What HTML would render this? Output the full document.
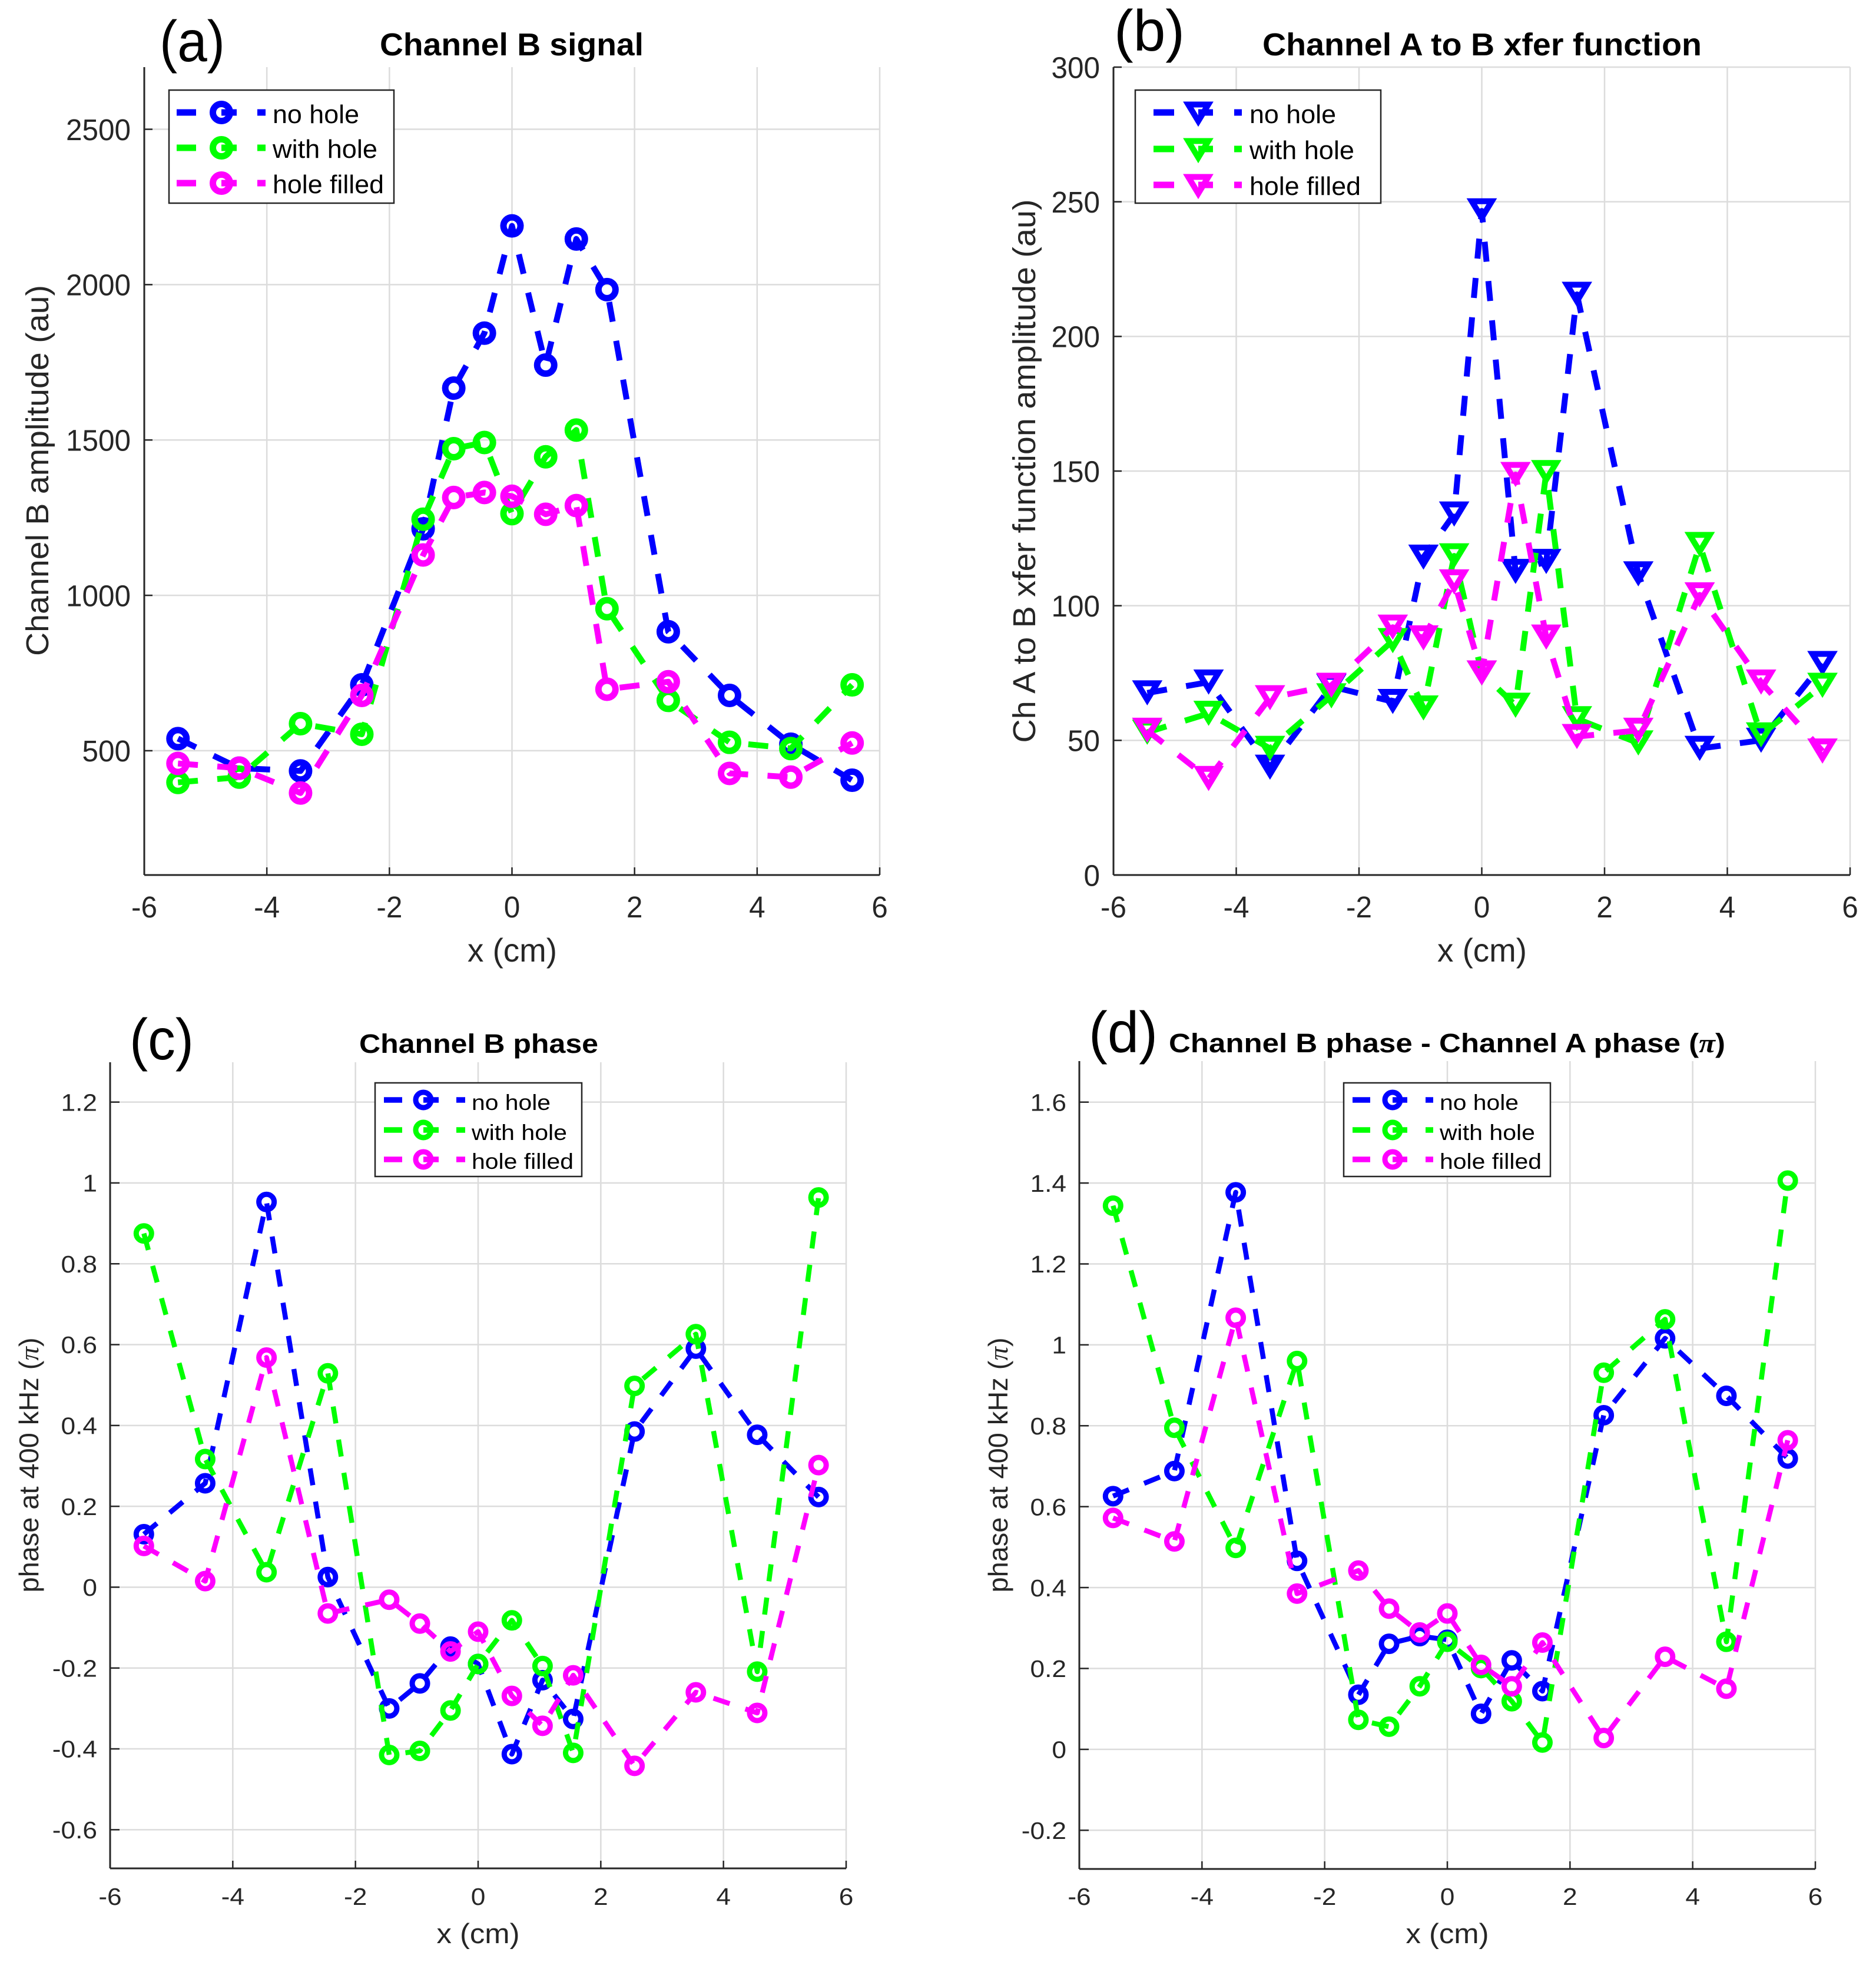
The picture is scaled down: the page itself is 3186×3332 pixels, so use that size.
<!DOCTYPE html>
<html lang="en">
<head>
<meta charset="utf-8">
<title>Channel B signal, transfer function and phase</title>
<style>
html,body{margin:0;padding:0;background:#fff;}
svg{display:block;}
text{font-family:"Liberation Sans",sans-serif;}
.tick{fill:#262626;}
.lab{fill:#262626;}
.ttl{fill:#000;font-weight:bold;}
.leg{fill:#000;}
.pan{fill:#000;}
.pi{font-family:"Liberation Serif",serif;font-style:italic;}
</style>
</head>
<body>
<svg id="fig" xmlns="http://www.w3.org/2000/svg" width="3186" height="3332" viewBox="0 0 3186 3332">
<rect width="3186" height="3332" fill="#ffffff"/>
<g id="g-a"></g>
<g id="g-b"></g>
<g id="g-c"></g>
<g id="g-d"></g>

<text class="pan" x="271" y="104" font-size="98" textLength="111" lengthAdjust="spacingAndGlyphs">(a)</text>
<text class="pan" x="1892" y="86" font-size="98" textLength="120" lengthAdjust="spacingAndGlyphs">(b)</text>
<text class="pan" x="220" y="1799" font-size="98" textLength="109" lengthAdjust="spacingAndGlyphs">(c)</text>
<text class="pan" x="1849" y="1787" font-size="98" textLength="117" lengthAdjust="spacingAndGlyphs">(d)</text>

<text class="ttl" x="645" y="94" font-size="54" textLength="448" lengthAdjust="spacingAndGlyphs">Channel B signal</text>
<text class="ttl" x="2144" y="94" font-size="54" textLength="746" lengthAdjust="spacingAndGlyphs">Channel A to B xfer function</text>
<text class="ttl" x="610" y="1788" font-size="45" textLength="406" lengthAdjust="spacingAndGlyphs">Channel B phase</text>
<text class="ttl" x="1985" y="1787" font-size="45" textLength="945" lengthAdjust="spacingAndGlyphs">Channel B phase - Channel A phase (<tspan class="pi">π</tspan>)</text>

<text class="lab" x="870" y="1633" font-size="56" text-anchor="middle" textLength="152" lengthAdjust="spacingAndGlyphs">x (cm)</text>
<text class="lab" x="2517" y="1633" font-size="56" text-anchor="middle" textLength="152" lengthAdjust="spacingAndGlyphs">x (cm)</text>
<text class="lab" x="812" y="3300" font-size="47" text-anchor="middle" textLength="141" lengthAdjust="spacingAndGlyphs">x (cm)</text>
<text class="lab" x="2458" y="3300" font-size="47" text-anchor="middle" textLength="141" lengthAdjust="spacingAndGlyphs">x (cm)</text>

<text class="lab" transform="translate(82,799) rotate(-90)" font-size="54" text-anchor="middle" textLength="630" lengthAdjust="spacingAndGlyphs">Channel B amplitude (au)</text>
<text class="lab" transform="translate(1758,800) rotate(-90)" font-size="54" text-anchor="middle" textLength="923" lengthAdjust="spacingAndGlyphs">Ch A to B xfer function amplitude (au)</text>
<text class="lab" transform="translate(65,2488) rotate(-90)" font-size="46" text-anchor="middle" textLength="433" lengthAdjust="spacingAndGlyphs">phase at 400 kHz (<tspan class="pi">π</tspan>)</text>
<text class="lab" transform="translate(1711,2488) rotate(-90)" font-size="46" text-anchor="middle" textLength="433" lengthAdjust="spacingAndGlyphs">phase at 400 kHz (<tspan class="pi">π</tspan>)</text>

<g id="leg-a">
<rect x="287" y="153" width="382" height="192" fill="#fff" stroke="#262626" stroke-width="2.5"/>
<text class="leg" x="463" y="209" font-size="44" textLength="147" lengthAdjust="spacingAndGlyphs">no hole</text>
<text class="leg" x="463" y="268" font-size="44" textLength="178" lengthAdjust="spacingAndGlyphs">with hole</text>
<text class="leg" x="463" y="328" font-size="44" textLength="189" lengthAdjust="spacingAndGlyphs">hole filled</text>
</g>
<g id="leg-b">
<rect x="1928" y="153" width="417" height="192" fill="#fff" stroke="#262626" stroke-width="2.5"/>
<text class="leg" x="2122" y="209" font-size="44" textLength="147" lengthAdjust="spacingAndGlyphs">no hole</text>
<text class="leg" x="2122" y="270" font-size="44" textLength="178" lengthAdjust="spacingAndGlyphs">with hole</text>
<text class="leg" x="2122" y="331" font-size="44" textLength="189" lengthAdjust="spacingAndGlyphs">hole filled</text>
</g>
<g id="leg-c">
<rect x="637" y="1839" width="351" height="159" fill="#fff" stroke="#262626" stroke-width="2.5"/>
<text class="leg" x="801" y="1885" font-size="37" textLength="134" lengthAdjust="spacingAndGlyphs">no hole</text>
<text class="leg" x="801" y="1936" font-size="37" textLength="162" lengthAdjust="spacingAndGlyphs">with hole</text>
<text class="leg" x="801" y="1985" font-size="37" textLength="173" lengthAdjust="spacingAndGlyphs">hole filled</text>
</g>
<g id="leg-d">
<rect x="2282" y="1839" width="351" height="159" fill="#fff" stroke="#262626" stroke-width="2.5"/>
<text class="leg" x="2445" y="1885" font-size="37" textLength="134" lengthAdjust="spacingAndGlyphs">no hole</text>
<text class="leg" x="2445" y="1936" font-size="37" textLength="162" lengthAdjust="spacingAndGlyphs">with hole</text>
<text class="leg" x="2445" y="1985" font-size="37" textLength="173" lengthAdjust="spacingAndGlyphs">hole filled</text>
</g>
</svg>
<script>
// ---- data ----
const xPositions = [-5.45,-4.45,-3.45,-2.45,-1.45,-0.95,-0.45,0,0.55,1.05,1.55,2.55,3.55,4.55,5.55];
const xTickLabels = [-6,-4,-2,0,2,4,6];

const aYTicks = [500,1000,1500,2000,2500];
const aNoHole = [539,444,435,712,1214,1667,1844,2189,1741,2147,1984,883,678,521,405];
const aWithHole = [398,415,587,553,1245,1472,1492,1263,1446,1532,957,662,527,507,712];
const aHoleFilled = [459,444,364,678,1130,1315,1331,1319,1261,1289,698,722,427,415,525];

const bYTicks = [0,50,100,150,200,250,300];
const bNoHole = [67.6,71.6,40,70,64.4,118,134,246.6,112.7,116.4,215.6,111.8,47,50,78.5];
const bWithHole = [53,60,47,66.5,87,62,118.5,75,63,149.4,58,49,122.7,52,70.4];
const bHoleFilled = [53.7,35.8,65.8,70.4,92,88,108.8,75,148.7,88.3,51.4,53.7,104,71.6,46];

const cYTicks = [-0.6,-0.4,-0.2,0,0.2,0.4,0.6,0.8,1,1.2];
const cNoHole = [0.131,0.257,0.953,0.025,-0.3,-0.238,-0.147,-0.19,-0.413,-0.23,-0.326,0.385,0.59,0.377,0.223];
const cWithHole = [0.875,0.317,0.037,0.529,-0.415,-0.405,-0.305,-0.19,-0.082,-0.195,-0.41,0.498,0.626,-0.209,0.964];
const cHoleFilled = [0.102,0.015,0.568,-0.065,-0.031,-0.09,-0.159,-0.11,-0.269,-0.343,-0.218,-0.442,-0.26,-0.311,0.302];

const dYTicks = [-0.2,0,0.2,0.4,0.6,0.8,1,1.2,1.4,1.6];
const dNoHole = [0.626,0.688,1.377,0.466,0.135,0.261,0.28,0.271,0.088,0.22,0.144,0.826,1.016,0.874,0.719];
const dWithHole = [1.344,0.795,0.498,0.96,0.073,0.056,0.156,0.266,0.201,0.119,0.017,0.931,1.063,0.266,1.406];
const dHoleFilled = [0.572,0.514,1.067,0.385,0.442,0.348,0.289,0.336,0.209,0.156,0.264,0.028,0.229,0.15,0.764];

const seriesColors = ['#0000ff','#00ff00','#ff00ff'];
const seriesKeys = ['no-hole','with-hole','hole-filled'];

// ---- drawing ----
const NS = 'http://www.w3.org/2000/svg';
function mk(parent, tag, attrs){
  const el = document.createElementNS(NS, tag);
  for (const k in attrs) el.setAttribute(k, attrs[k]);
  parent.appendChild(el);
  return el;
}
function drawMarker(parent, shape, cx, cy, color, r, sw, name){
  let m;
  if (shape === 'circle') {
    m = mk(parent, 'circle', {cx:cx, cy:cy, r:r, fill:'none', stroke:color, 'stroke-width':sw});
  } else {
    const pts = (cx-r)+','+(cy-r*0.97)+' '+(cx+r)+','+(cy-r*0.97)+' '+cx+','+(cy+r*0.68);
    m = mk(parent, 'polygon', {points:pts, fill:'none', stroke:color, 'stroke-width':sw, 'stroke-linejoin':'miter', 'stroke-miterlimit':10});
  }
  
  
  return m;
}
function drawPanel(p){
  const g = document.getElementById(p.id);
  const sx = v => p.left + (v - p.xMin) / (p.xMax - p.xMin) * (p.right - p.left);
  const sy = v => p.scaleBottom - (v - p.yMin) / (p.yMax - p.yMin) * (p.scaleBottom - p.scaleTop);
  xTickLabels.forEach(t => {
    const x = sx(t);
    const gl = mk(g, 'line', {x1:x, x2:x, y1:p.top, y2:p.bottom, stroke:'#dcdcdc', 'stroke-width':2.5});
    
    
  });
  p.yTicks.forEach(t => {
    const y = sy(t);
    const gl = mk(g, 'line', {x1:p.left, x2:p.right, y1:y, y2:y, stroke:'#dcdcdc', 'stroke-width':2.5});
    
    
  });
  const axX = mk(g, 'line', {x1:p.left, x2:p.right, y1:p.bottom, y2:p.bottom, stroke:'#262626', 'stroke-width':3});
  
  
  const axY = mk(g, 'line', {x1:p.left, x2:p.left, y1:p.top, y2:p.bottom, stroke:'#262626', 'stroke-width':3});
  
  
  xTickLabels.forEach(t => {
    const x = sx(t);
    const tk = mk(g, 'line', {x1:x, x2:x, y1:p.bottom, y2:p.bottom-13, stroke:'#262626', 'stroke-width':2.5});
    
    
    const lb = mk(g, 'text', {class:'tick', 'text-anchor':'middle', 'font-size':p.tickFont,
      transform:'translate('+x+','+p.xTickBase+') scale('+p.tickSx+',1)'});
    lb.textContent = String(t);
    
    
  });
  p.yTicks.forEach(t => {
    const y = sy(t);
    const tk = mk(g, 'line', {x1:p.left, x2:p.left+p.yTickLen, y1:y, y2:y, stroke:'#262626', 'stroke-width':2.5});
    
    
    const lb = mk(g, 'text', {class:'tick', 'text-anchor':'end', 'font-size':p.tickFont,
      transform:'translate('+(p.left-p.yLabelGap)+','+(y+p.tickFont*0.358)+') scale('+p.tickSx+',1)'});
    lb.textContent = String(t);
    
    
  });
  p.series.forEach((vals, si) => {
    const color = seriesColors[si];
    const sg = mk(g, 'g', {});
    
    
    const pts = xPositions.map((x, i) => sx(x).toFixed(1) + ',' + sy(vals[i]).toFixed(1)).join(' ');
    const line = mk(sg, 'polyline', {points:pts, fill:'none', stroke:color, 'stroke-width':p.lineW,
      'stroke-dasharray':p.dash, 'stroke-linejoin':'round'});
    
    
    xPositions.forEach((x, i) => {
      drawMarker(sg, p.shape, sx(x), sy(vals[i]), color, p.mR, p.mW, 'point-' + seriesKeys[si]);
    });
  });
  // legend swatches
  const lg = document.getElementById(p.legendId);
  p.legendRows.forEach((ry, si) => {
    const color = seriesColors[si];
    const l = p.legendSwatch;
    const d1 = mk(lg, 'line', {x1:l.a, x2:l.b, y1:ry, y2:ry, stroke:color, 'stroke-width':p.lineW+1});
    
    
    const d2 = mk(lg, 'line', {x1:l.m, x2:l.c, y1:ry, y2:ry, stroke:color, 'stroke-width':p.lineW+1});
    
    
    const d3 = mk(lg, 'line', {x1:l.d, x2:l.e, y1:ry, y2:ry, stroke:color, 'stroke-width':p.lineW+1});
    
    
    drawMarker(lg, p.shape, l.m, ry + (p.shape === 'tri' ? 3 : 0), color, p.mR, p.mW, 'legend-marker');
  });
}
const big = {xMin:-6, xMax:6, tickFont:51, tickSx:0.97, yLabelGap:23, yTickLen:14, lineW:10, dash:'34 33'};
const small = {xMin:-6, xMax:6, tickFont:41, tickSx:1.08, yLabelGap:22, yTickLen:16, lineW:8.5, dash:'29 28', mW:9, shape:'circle', mR:13};
drawPanel(Object.assign({}, big, {id:'g-a', legendId:'leg-a', left:245, right:1494, top:114, bottom:1486, scaleTop:114, scaleBottom:1486,
  yMin:100, yMax:2700, yTicks:aYTicks, xTickBase:1558, shape:'circle', mR:14.5, mW:11,
  series:[aNoHole,aWithHole,aHoleFilled], legendRows:[191,251,311],
  legendSwatch:{a:300,b:333,m:376,c:402,d:437,e:451}}));
drawPanel(Object.assign({}, big, {id:'g-b', legendId:'leg-b', left:1891, right:3142, top:114, bottom:1486, scaleTop:114, scaleBottom:1486,
  yMin:0, yMax:300, yTicks:bYTicks, xTickBase:1558, shape:'tri', mR:17, mW:10,
  series:[bNoHole,bWithHole,bHoleFilled], legendRows:[191,253,314],
  legendSwatch:{a:1959,b:1994,m:2035,c:2060,d:2096,e:2109}}));
drawPanel(Object.assign({}, small, {id:'g-c', legendId:'leg-c', left:187, right:1437, top:1804, bottom:3173, scaleTop:1803, scaleBottom:3176,
  yMin:-0.7, yMax:1.3, yTicks:cYTicks, xTickBase:3235,
  series:[cNoHole,cWithHole,cHoleFilled], legendRows:[1868,1919,1969],
  legendSwatch:{a:652,b:683,m:719,c:745,d:775,e:790}}));
drawPanel(Object.assign({}, small, {id:'g-d', legendId:'leg-d', left:1833, right:3083, top:1802, bottom:3174, scaleTop:1803, scaleBottom:3177,
  yMin:-0.3, yMax:1.7, yTicks:dYTicks, xTickBase:3235,
  series:[dNoHole,dWithHole,dHoleFilled], legendRows:[1868,1919,1969],
  legendSwatch:{a:2297,b:2327,m:2365,c:2390,d:2421,e:2434}}));
</script>
</body>
</html>
